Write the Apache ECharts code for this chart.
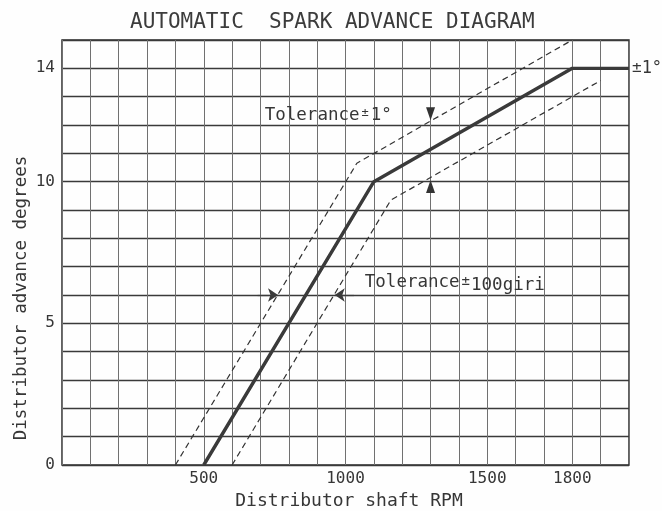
<!DOCTYPE html>
<html>
<head>
<meta charset="utf-8">
<title>Automatic spark advance diagram</title>
<script src="https://cdn.jsdelivr.net/npm/echarts@6/dist/echarts.min.js"></script>
<style>
  html, body { margin: 0; padding: 0; background: #fefefe; }
  #chart { width: 662px; height: 511px; }
</style>
</head>
<body>
<div id="chart"></div>
<script>
// Nominal advance curve (distributor shaft RPM -> degrees)
const curveRpm = [500, 1100, 1800, 2000];
const curveDeg = [0, 10, 14, 14];

// Upper tolerance limit (-100 rpm on the steep part, +1 degree on the shallow part)
const upperRpm = [400, 1040, 1800];
const upperDeg = [0, 10.65, 15];

// Lower tolerance limit (+100 rpm on the steep part, -1 degree on the shallow part)
const lowerRpm = [600, 1160, 1900];
const lowerDeg = [0, 9.35, 13.57];

// Axis labels that are printed
const xTickLabels = [500, 1000, 1500, 1800];
const yTickLabels = [0, 5, 10, 14];

const FONT = '"DejaVu Sans Mono", "Liberation Mono", monospace';
const INK = '#363636';

const pairs = (xs, ys) => xs.map((x, i) => [x, ys[i]]);

const chart = echarts.init(document.getElementById('chart'), null, { renderer: 'canvas' });

chart.setOption({
  backgroundColor: '#fefefe',
  animation: false,
  title: {
    text: 'AUTOMATIC  SPARK ADVANCE DIAGRAM',
    left: 125,
    top: 7,
    textStyle: { fontFamily: FONT, fontSize: 21, fontWeight: 'normal', color: '#3c3c3c' }
  },
  grid: {
    left: 62, right: 33, top: 40, bottom: 46,
    show: true, borderColor: '#2e2e2e', borderWidth: 1.5, backgroundColor: 'transparent'
  },
  xAxis: {
    type: 'value', min: 0, max: 2000, interval: 100,
    axisLine: { show: false },
    axisTick: { show: false },
    axisLabel: {
      margin: 6,
      fontFamily: FONT, fontSize: 16, color: INK,
      formatter: v => (xTickLabels.indexOf(v) >= 0 ? String(v) : '')
    },
    splitLine: { show: true, lineStyle: { color: '#707070', width: 1 } }
  },
  yAxis: {
    type: 'value', min: 0, max: 15, interval: 1,
    axisLine: { show: false },
    axisTick: { show: false },
    axisLabel: {
      margin: 7,
      fontFamily: FONT, fontSize: 16, color: INK,
      formatter: v => (yTickLabels.indexOf(v) >= 0 ? String(v) : '')
    },
    splitLine: { show: true, lineStyle: { color: '#3a3a3a', width: 1.3 } }
  },
  graphic: [
    {
      type: 'text', x: 21, y: 298, rotation: Math.PI / 2,
      style: {
        text: 'Distributor advance degrees',
        font: 'normal 17.5px ' + FONT, fill: INK,
        textAlign: 'center', textVerticalAlign: 'middle'
      }
    },
    {
      type: 'text', x: 349, y: 501,
      style: {
        text: 'Distributor shaft RPM',
        font: 'normal 18px ' + FONT, fill: INK,
        textAlign: 'center', textVerticalAlign: 'middle'
      }
    }
  ],
  series: [
    {
      name: 'upper limit', type: 'line', symbol: 'none', silent: true,
      data: pairs(upperRpm, upperDeg),
      lineStyle: { color: '#333', width: 1.2, type: [6, 4] }, z: 3
    },
    {
      name: 'lower limit', type: 'line', symbol: 'none', silent: true,
      data: pairs(lowerRpm, lowerDeg),
      lineStyle: { color: '#333', width: 1.2, type: [6, 4] }, z: 3
    },
    {
      name: 'advance', type: 'line', symbol: 'none', silent: true,
      data: pairs(curveRpm, curveDeg),
      lineStyle: { color: '#3a3a3a', width: 3.4 }, z: 4,
      markLine: {
        silent: true,
        symbol: ['none', 'arrow'],
        symbolSize: 10,
        label: { show: false },
        lineStyle: { color: '#3a3a3a', width: 1.2, type: 'solid', opacity: 1 },
        data: [
          [{ coord: [690, 6] }, { coord: [762, 6] }],
          [{ coord: [1030, 6] }, { coord: [962, 6] }]
        ]
      }
    },
    {
      // tolerance pointers at 1300 rpm
      name: 'pointers', type: 'scatter', silent: true, z: 5,
      symbol: 'triangle', symbolSize: [9, 13],
      itemStyle: { color: '#333', opacity: 1 },
      data: [
        { value: [1300, 12.4], symbolRotate: 180 },
        { value: [1300, 9.83] }
      ]
    },
    {
      // text annotations anchored to data coordinates
      name: 'notes', type: 'scatter', silent: true, clip: false, z: 6,
      symbolSize: 0,
      itemStyle: { opacity: 1 },
      label: {
        show: true, position: 'right', distance: 0,
        fontFamily: FONT, color: INK, fontSize: 17.5, opacity: 1,
        verticalAlign: 'middle'
      },
      data: [
        {
          value: [715, 12.35],
          label: {
            formatter: 'Tolerance{pm|±}{n|1°}',
            rich: {
              pm: { fontFamily: FONT, fontSize: 12, color: INK, padding: [0, 2, 4, 2] },
              n: { fontFamily: FONT, fontSize: 17.5, color: INK }
            }
          }
        },
        {
          value: [1068, 6.45],
          label: {
            formatter: 'Tolerance{pm|±}{n|100giri}',
            rich: {
              pm: { fontFamily: FONT, fontSize: 14, color: INK, padding: [0, 1, 2, 2] },
              n: { fontFamily: FONT, fontSize: 17.5, color: INK, padding: [6, 0, 0, 0] }
            }
          }
        },
        {
          value: [2000, 14],
          label: {
            distance: 3,
            formatter: '{pm|±}{n|1°}',
            rich: {
              pm: { fontFamily: FONT, fontSize: 16, color: INK },
              n: { fontFamily: FONT, fontSize: 17, color: INK }
            }
          }
        }
      ]
    }
  ]
});
</script>
</body>
</html>
